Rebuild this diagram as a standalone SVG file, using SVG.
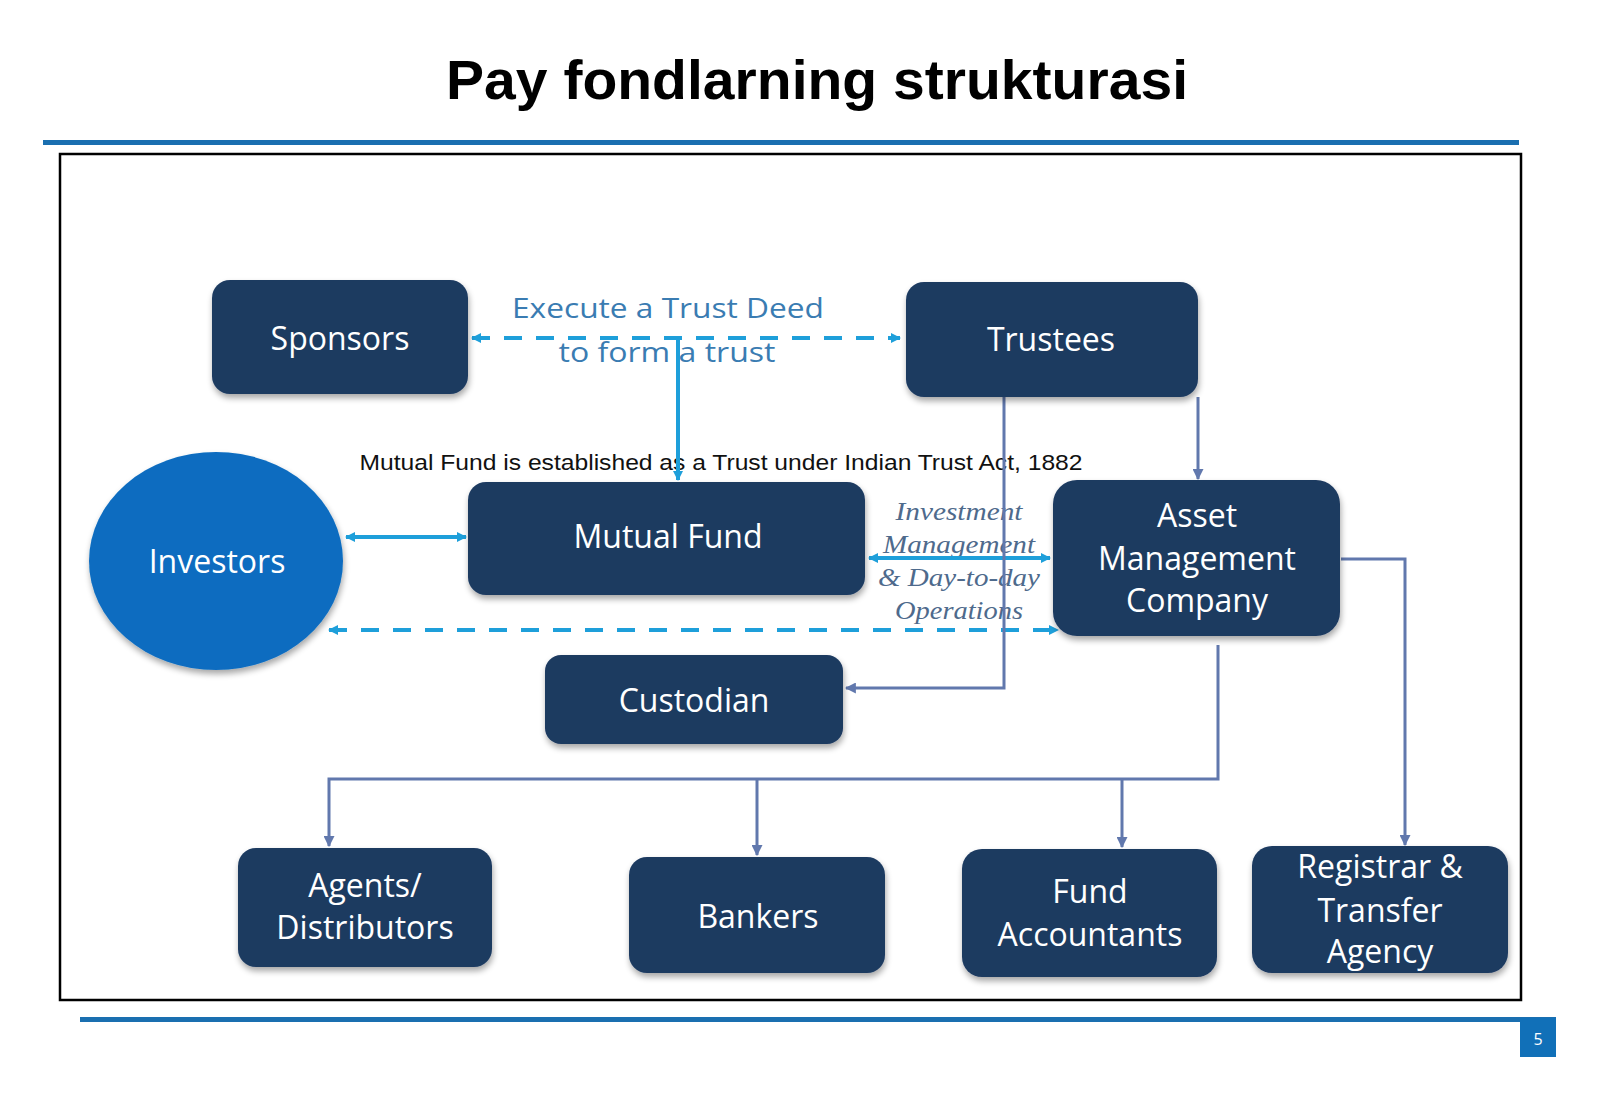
<svg xmlns="http://www.w3.org/2000/svg" width="1600" height="1107" viewBox="0 0 1600 1107">
<defs>
<style>
.node{fill:#1D3A61;filter:url(#sh)}
.nt{font-family:"Open Sans","Noto Sans",sans-serif;font-size:32px;fill:#FFFFFF;text-anchor:middle}
.lb{stroke:#1E9FDA;stroke-width:4;fill:none}
.dash{stroke-dasharray:18 14}
.gb{stroke:#6178AD;stroke-width:3;fill:none}
.it{font-family:"Liberation Serif","DejaVu Serif",serif;font-style:italic;font-size:26px;fill:#4E6A8C;text-anchor:middle}
</style>
<filter id="sh" x="-10%" y="-10%" width="120%" height="130%">
<feGaussianBlur in="SourceAlpha" stdDeviation="3"/>
<feOffset dx="1" dy="4" result="b"/>
<feComponentTransfer><feFuncA type="linear" slope="0.35"/></feComponentTransfer>
<feMerge><feMergeNode/><feMergeNode in="SourceGraphic"/></feMerge>
</filter>
<marker id="ab" viewBox="0 0 10 10" refX="9" refY="5" markerWidth="10" markerHeight="10" markerUnits="userSpaceOnUse" orient="auto-start-reverse">
<path d="M0,0 L10,5 L0,10 z" fill="#1E9FDA"/>
</marker>
<marker id="ag" viewBox="0 0 10 10" refX="9" refY="5" markerWidth="11" markerHeight="11" markerUnits="userSpaceOnUse" orient="auto-start-reverse">
<path d="M0,0 L10,5 L0,10 z" fill="#6178AD"/>
</marker>
</defs>
<rect x="0" y="0" width="1600" height="1107" fill="#FFFFFF"/>

<g id="header">
<text x="817" y="99" font-family="Liberation Sans, Arial, sans-serif" font-weight="bold" font-size="56" text-anchor="middle" fill="#000000" textLength="742" lengthAdjust="spacingAndGlyphs">Pay fondlarning strukturasi</text>
<rect x="43" y="140" width="1476" height="5" fill="#1A6FB0"/>
</g>

<rect id="frame" x="60" y="154" width="1461" height="846" fill="none" stroke="#000000" stroke-width="2.5"/>

<g id="labels">
<text x="668" y="318" font-family="Open Sans, Noto Sans, sans-serif" font-size="28" fill="#3A7CB2" text-anchor="middle" textLength="312" lengthAdjust="spacingAndGlyphs">Execute a Trust Deed</text>
<text x="667" y="362" font-family="Open Sans, Noto Sans, sans-serif" font-size="28" fill="#3A7CB2" text-anchor="middle" textLength="217" lengthAdjust="spacingAndGlyphs">to form a trust</text>
<text x="721" y="470" font-family="Liberation Sans, Arial, sans-serif" font-size="22" fill="#111111" text-anchor="middle" textLength="723" lengthAdjust="spacingAndGlyphs">Mutual Fund is established as a Trust under Indian Trust Act, 1882</text>
<text class="it" x="959" y="520" textLength="127" lengthAdjust="spacingAndGlyphs">Investment</text>
<text class="it" x="959" y="553" textLength="152" lengthAdjust="spacingAndGlyphs">Management</text>
<text class="it" x="959" y="586" textLength="162" lengthAdjust="spacingAndGlyphs">&amp; Day-to-day</text>
<text class="it" x="959" y="619" textLength="128" lengthAdjust="spacingAndGlyphs">Operations</text>
</g>

<g id="connectors">
<line class="lb dash" x1="472" y1="338" x2="900" y2="338" marker-start="url(#ab)" marker-end="url(#ab)"/>
<line class="lb" x1="678" y1="338" x2="678" y2="480" stroke-width="3.5" marker-end="url(#ab)"/>
<line class="lb" x1="346" y1="537" x2="466" y2="537" stroke-width="3.5" marker-start="url(#ab)" marker-end="url(#ab)"/>
<line class="lb" x1="869" y1="558" x2="1050" y2="558" stroke-width="3.5" marker-start="url(#ab)" marker-end="url(#ab)"/>
<line class="lb dash" x1="329" y1="630" x2="1058" y2="630" marker-start="url(#ab)" marker-end="url(#ab)"/>
<polyline class="gb" points="1004,397 1004,688 846,688" marker-end="url(#ag)"/>
<line class="gb" x1="1198" y1="397" x2="1198" y2="479" marker-end="url(#ag)"/>
<polyline class="gb" points="1341,559 1405,559 1405,845" marker-end="url(#ag)"/>
<polyline class="gb" points="1218,645 1218,779 329,779 329,846" marker-end="url(#ag)"/>
<line class="gb" x1="757" y1="779" x2="757" y2="855" marker-end="url(#ag)"/>
<line class="gb" x1="1122" y1="779" x2="1122" y2="847" marker-end="url(#ag)"/>
</g>

<g id="sponsors"><rect class="node" x="212" y="280" width="256" height="114" rx="18"/><text class="nt" x="340" y="350">Sponsors</text></g>
<g id="trustees"><rect class="node" x="906" y="282" width="292" height="115" rx="18"/><text class="nt" x="1051" y="351">Trustees</text></g>
<g id="investors"><ellipse cx="216" cy="561" rx="127" ry="109" fill="#0A6CC0" filter="url(#sh)"/><text class="nt" x="217" y="573">Investors</text></g>
<g id="mutual-fund"><rect class="node" x="468" y="482" width="397" height="113" rx="18"/><text class="nt" x="668" y="548">Mutual Fund</text></g>
<g id="amc"><rect class="node" x="1053" y="480" width="287" height="156" rx="24"/><text class="nt" x="1197" y="527">Asset</text><text class="nt" x="1197" y="570">Management</text><text class="nt" x="1197" y="612">Company</text></g>
<g id="custodian"><rect class="node" x="545" y="655" width="298" height="89" rx="16"/><text class="nt" x="694" y="712">Custodian</text></g>
<g id="agents"><rect class="node" x="238" y="848" width="254" height="119" rx="18"/><text class="nt" x="365" y="897">Agents/</text><text class="nt" x="365" y="939">Distributors</text></g>
<g id="bankers"><rect class="node" x="629" y="857" width="256" height="116" rx="18"/><text class="nt" x="758" y="928">Bankers</text></g>
<g id="fund-accountants"><rect class="node" x="962" y="849" width="255" height="128" rx="20"/><text class="nt" x="1090" y="903">Fund</text><text class="nt" x="1090" y="946">Accountants</text></g>
<g id="registrar"><rect class="node" x="1252" y="846" width="256" height="127" rx="20"/><text class="nt" x="1380" y="878">Registrar &amp;</text><text class="nt" x="1380" y="922">Transfer</text><text class="nt" x="1380" y="963">Agency</text></g>

<g id="footer">
<rect x="80" y="1017" width="1476" height="5" fill="#1A6FB0"/>
<rect x="1520" y="1018" width="36" height="39" fill="#1170B8"/>
<text x="1538" y="1045" font-family="Open Sans, Noto Sans, sans-serif" font-size="16" fill="#FFFFFF" text-anchor="middle">5</text>
</g>
</svg>
